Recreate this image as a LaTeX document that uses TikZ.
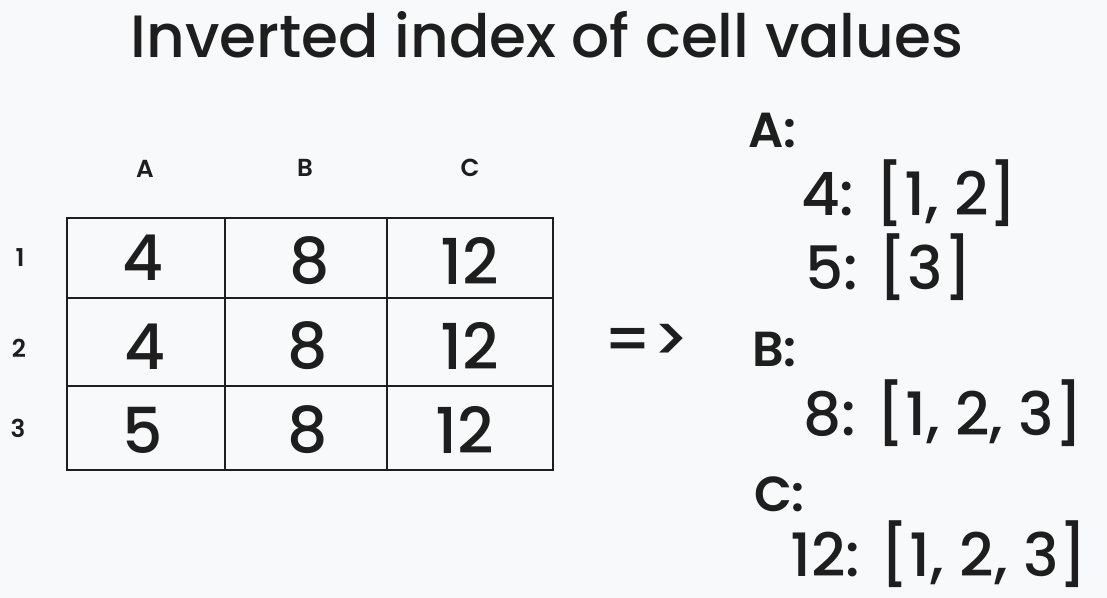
\documentclass[tikz,border=0pt]{standalone}
\usepackage{fontspec}
\setmainfont{Poppins}[UprightFont={* Medium}, BoldFont={* SemiBold}]
\usepackage{tikz}

\definecolor{paper}{HTML}{F8F9FA}
\definecolor{ink}{HTML}{1E1E1E}

\tikzset{
  grid line/.style={ink, line width=1.2pt},
  cell/.style={ink, font=\fontsize{36}{40}\selectfont},
  head/.style={ink, font=\fontsize{14}{16}\selectfont\bfseries},
  key/.style={ink, anchor=base west, font=\fontsize{28}{30}\selectfont\bfseries},
  entry/.style={ink, anchor=base west, font=\fontsize{34}{38}\selectfont}
}

\begin{document}
\begin{tikzpicture}[x=0.02cm, y=-0.02cm]

    % --- Canvas ---
    \fill[paper] (0,0) rectangle (1107,598);
    \useasboundingbox (0,0) rectangle (1107,598);

    % --- Title ---
    \node[ink, font=\fontsize{34}{38}\selectfont] (title) at (547,35) {Inverted index of cell values};

    % --- Define Coordinates ---
    % Corners of the table
    \coordinate (NW) at (67,218);
    \coordinate (SE) at (553,470);

    % --- Drawing the Table ---
    \draw[grid line] (NW) rectangle (SE);
    \draw[grid line] (225,218) -- (225,470);
    \draw[grid line] (387,218) -- (387,470);
    \draw[grid line] (67,298) -- (553,298);
    \draw[grid line] (67,386) -- (553,386);

    % Column heads
    \node[head] (colA) at (145,169) {A};
    \node[head] (colB) at (305,168) {B};
    \node[head] (colC) at (470,168) {C};

    % Row heads
    \node[head] (row1) at (20,258) {1};
    \node[head] (row2) at (19,348) {2};
    \node[head] (row3) at (18,428) {3};

    % Cell values
    \node[cell] (a1) at (143,258) {4};
    \node[cell] (b1) at (310,261) {8};
    \node[cell] (c1) at (470,261) {12};
    \node[cell] (a2) at (145,347) {4};
    \node[cell] (b2) at (308,346) {8};
    \node[cell] (c2) at (470,346) {12};
    \node[cell] (a3) at (143,430) {5};
    \node[cell] (b3) at (308,430) {8};
    \node[cell] (c3) at (465,430) {12};

    % --- Index ---
    \node[ink, font=\fontsize{36}{38}\selectfont] (arrow) at (647,343) {=>};

    \node[key]   (keyA) at (742,148) {A:};
    \node[entry] (a4)   at (795,215) {4: [1, 2]};
    \node[entry] (a5)   at (799,290) {5: [3]};
    \node[key]   (keyB) at (746,366) {B:};
    \node[entry] (b8)   at (797,436) {8: [1, 2, 3]};
    \node[key]   (keyC) at (748,511) {C:};
    \node[entry] (c12)  at (784,576) {12: [1, 2, 3]};

\end{tikzpicture}
\end{document}
